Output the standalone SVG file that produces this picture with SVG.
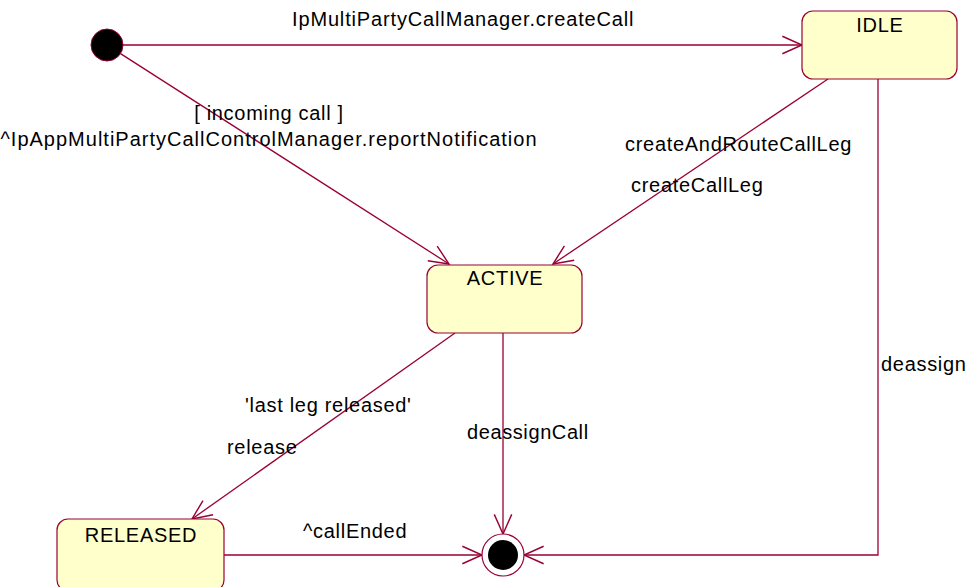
<svg xmlns="http://www.w3.org/2000/svg" width="966" height="587" viewBox="0 0 966 587">
<defs>
<style>
.state{fill:#FFFFCC;stroke:#990033;stroke-width:1.2}
.lbl{font-family:"Liberation Sans",Arial,sans-serif;font-size:20px;letter-spacing:0.7px;fill:#000}
.ctr{text-anchor:middle}
.edge{fill:none;stroke:#990033;stroke-width:1.3}
</style>
<marker id="arr" markerUnits="userSpaceOnUse" markerWidth="24" markerHeight="24" viewBox="-20 -10 22 20" refX="0" refY="0" orient="auto" overflow="visible">
<path d="M-18,-8 L0,0 L-18,8" fill="none" stroke="#990033" stroke-width="1.3"/>
</marker>
</defs>
<rect width="966" height="587" fill="#fff"/>
<g id="connectors">
<line class="edge" x1="123" y1="45" x2="802" y2="45" marker-end="url(#arr)"/>
<line class="edge" x1="120.5" y1="53.6" x2="449" y2="264" marker-end="url(#arr)"/>
<line class="edge" x1="828" y1="79" x2="553" y2="264" marker-end="url(#arr)"/>
<polyline class="edge" points="878,79 878,555 524,555" marker-end="url(#arr)"/>
<line class="edge" x1="503" y1="333" x2="503" y2="534" marker-end="url(#arr)"/>
<line class="edge" x1="455" y1="333" x2="192" y2="519" marker-end="url(#arr)"/>
<line class="edge" x1="224" y1="555" x2="482" y2="555" marker-end="url(#arr)"/>
<text class="lbl" x="292" y="26" style="letter-spacing:0.85px">IpMultiPartyCallManager.createCall</text>
<text class="lbl ctr" x="269" y="120">[ incoming call ]</text>
<text class="lbl ctr" x="269" y="146" style="letter-spacing:1px">^IpAppMultiPartyCallControlManager.reportNotification</text>
<text class="lbl" x="625" y="151">createAndRouteCallLeg</text>
<text class="lbl" x="631" y="192">createCallLeg</text>
<text class="lbl" x="881" y="371">deassign</text>
<text class="lbl" x="245" y="412">'last leg released'</text>
<text class="lbl" x="227" y="454">release</text>
<text class="lbl" x="467" y="439" style="letter-spacing:0.6px">deassignCall</text>
<text class="lbl" x="303" y="538">^callEnded</text>
</g>
<g id="initial">
<circle cx="107" cy="45" r="16" fill="#000" stroke="#990033" stroke-width="1"/>
</g>
<g id="idle">
<rect class="state" x="802" y="11" width="155" height="68" rx="11"/>
<text class="lbl ctr" x="880" y="32">IDLE</text>
</g>
<g id="active">
<rect class="state" x="427" y="265" width="155" height="68" rx="11"/>
<text class="lbl ctr" x="505" y="285">ACTIVE</text>
</g>
<g id="released">
<rect class="state" x="57" y="519" width="167" height="72" rx="11"/>
<text class="lbl ctr" x="141" y="542">RELEASED</text>
</g>
<g id="final">
<circle cx="503" cy="555" r="21" fill="#fff" stroke="#990033" stroke-width="1.2"/>
<circle cx="503" cy="555" r="15" fill="#000"/>
</g>
</svg>
